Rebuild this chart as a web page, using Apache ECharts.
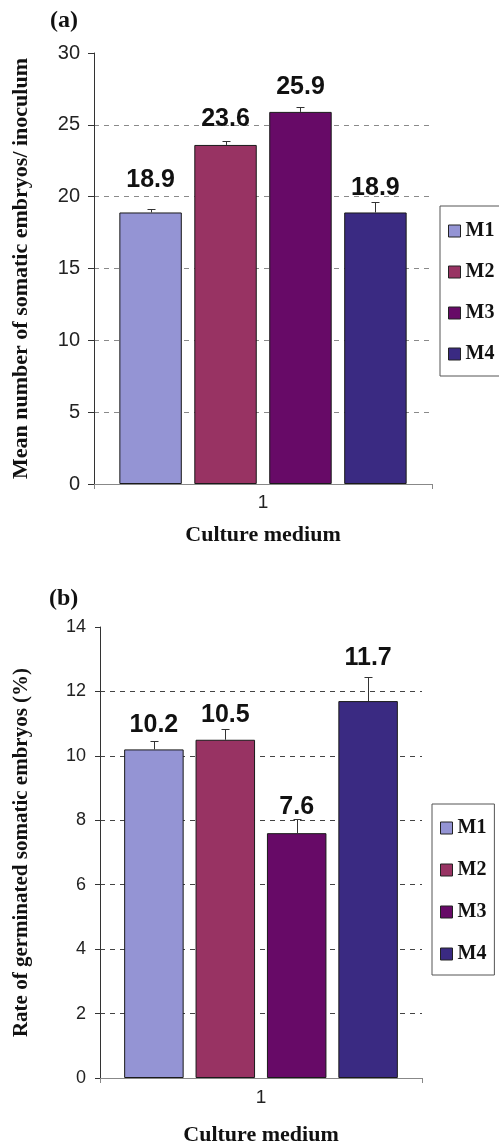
<!DOCTYPE html>
<html>
<head>
<meta charset="utf-8">
<script src="https://cdn.jsdelivr.net/npm/echarts@6/dist/echarts.min.js"></script>
<style>
  html, body { margin: 0; padding: 0; background: #fff; }
  #chart { width: 499px; height: 1147px; }
</style>
</head>
<body>
<div id="chart"></div>
<script>
// Culture media compared in both panels
const media = ['M1', 'M2', 'M3', 'M4'];
const categories = ['1'];

// (a) mean number of somatic embryos per inoculum, with standard errors
const embryosMean = [18.9, 23.6, 25.9, 18.9];
const embryosErr = [0.25, 0.3, 0.33, 0.74];
const embryosTicks = [0, 5, 10, 15, 20, 25, 30];

// (b) rate of germinated somatic embryos (%), with standard errors
const germRate = [10.2, 10.5, 7.6, 11.7];
const germErr = [0.27, 0.34, 0.45, 0.75];
const germTicks = [0, 2, 4, 6, 8, 10, 12, 14];

// ---- styling ----
const colors = ['#9494d4', '#983363', '#670a67', '#3a2a82'];
const serif = 'Liberation Serif';
const sans = 'Liberation Sans';
const CAT_GAP = 0.15;
const BAR_GAP = 0.2;
// pixel lift of each value label above its bar
const liftA = [20, 13, 12.5, 12];
const liftB = [12, 12, 13.5, 30.5];

function errorBarRenderer(count) {
  return function (params, api) {
    const i = api.value(3);
    const base = api.coord([api.value(0), api.value(1)]);
    const top = api.coord([api.value(0), api.value(1) + api.value(2)]);
    const band = api.size([1, 0])[0];
    const group = band * (1 - CAT_GAP);
    const w = group / (count + (count - 1) * BAR_GAP);
    let x = base[0] - group / 2 + i * w * (1 + BAR_GAP) + w / 2;
    x = Math.round(x) + 0.5;
    const yTop = Math.round(top[1]) + 0.5;
    const st = { stroke: '#333', lineWidth: 1 };
    return {
      type: 'group',
      children: [
        { type: 'line', shape: { x1: x, y1: base[1], x2: x, y2: yTop }, style: st },
        { type: 'line', shape: { x1: x - 4, y1: yTop, x2: x + 4, y2: yTop }, style: st }
      ]
    };
  };
}

function barSeries(values, axisIdx, lifts) {
  return media.map((name, i) => ({
    type: 'bar',
    name: name,
    xAxisIndex: axisIdx,
    yAxisIndex: axisIdx,
    data: [values[i]],
    barGap: (BAR_GAP * 100) + '%',
    barCategoryGap: (CAT_GAP * 100) + '%',
    itemStyle: { color: colors[i], borderColor: '#1a1a1a', borderWidth: 1 },
    label: {
      show: true,
      position: 'top',
      distance: lifts[i],
      formatter: p => p.value.toFixed(1),
      fontFamily: sans,
      fontWeight: 'bold',
      fontSize: 25,
      color: '#111'
    },
    emphasis: { disabled: true },
    z: 2
  }));
}

function errSeries(values, errs, axisIdx) {
  return {
    type: 'custom',
    xAxisIndex: axisIdx,
    yAxisIndex: axisIdx,
    renderItem: errorBarRenderer(values.length),
    encode: { x: 0, y: 1 },
    data: values.map((v, i) => [0, v, errs[i], i]),
    silent: true,
    z: 3
  };
}

function xAxis(gridIdx, labelMargin, nameGap) {
  return {
    type: 'category',
    gridIndex: gridIdx,
    data: categories,
    axisLine: { lineStyle: { color: '#888', width: 1 } },
    axisTick: { show: true, length: 5, lineStyle: { color: '#888' } },
    axisLabel: { fontFamily: sans, fontSize: 19, color: '#222', margin: labelMargin },
    name: 'Culture medium',
    nameLocation: 'middle',
    nameGap: nameGap,
    nameTextStyle: { fontFamily: serif, fontWeight: 'bold', fontSize: 22, color: '#111' }
  };
}

function yAxis(gridIdx, ticks, name, nameGap, fontSize, nameSize, gridColor, tickLen) {
  return {
    type: 'value',
    gridIndex: gridIdx,
    min: ticks[0],
    max: ticks[ticks.length - 1],
    interval: ticks[1] - ticks[0],
    axisLine: { show: true, lineStyle: { color: '#333', width: 1 } },
    axisTick: { show: true, length: tickLen, lineStyle: { color: '#333' } },
    axisLabel: { fontFamily: sans, fontSize: fontSize, color: '#222', margin: 14 },
    splitLine: {
      show: true,
      showMinLine: false,
      showMaxLine: false,
      lineStyle: { color: gridColor, type: [5, 5], width: 1 }
    },
    name: name,
    nameLocation: 'middle',
    nameRotate: 90,
    nameGap: nameGap,
    nameTextStyle: { fontFamily: serif, fontWeight: 'bold', fontSize: nameSize, color: '#111' }
  };
}

function legend(left, top, gap, padding) {
  return {
    data: media,
    orient: 'vertical',
    left: left,
    top: top,
    icon: 'rect',
    itemWidth: 12,
    itemHeight: 12,
    itemGap: gap,
    padding: padding,
    backgroundColor: '#fff',
    borderColor: '#555',
    borderWidth: 1,
    borderRadius: 0,
    selectedMode: false,
    itemStyle: { borderColor: '#222', borderWidth: 1 },
    textStyle: { fontFamily: serif, fontWeight: 'bold', fontSize: 20, color: '#111' }
  };
}

const chart = echarts.init(document.getElementById('chart'), null, { renderer: 'canvas' });

chart.setOption({
  animation: false,
  backgroundColor: '#fff',
  grid: [
    { left: 94, top: 53, width: 338, height: 431 },
    { left: 100, top: 627, width: 322, height: 453 }
  ],
  xAxis: [xAxis(0, 9, 40), xAxis(1, 10, 46)],
  yAxis: [
    yAxis(0, embryosTicks, 'Mean number of somatic embryos/ inoculum', 62, 20, 22, '#8a8a8a', 6),
    yAxis(1, germTicks, 'Rate of germinated somatic embryos (%)', 68, 18, 21, '#444', 5)
  ],
  legend: [
    legend(440, 206, 21, [15, 8, 12, 8]),
    legend(432, 804, 22, [14, 8, 11, 8])
  ],
  graphic: [
    { type: 'text', left: 50, top: 9, style: { text: '(a)', font: 'bold 24px "Liberation Serif"', fill: '#111' } },
    { type: 'text', left: 49, top: 587, style: { text: '(b)', font: 'bold 24px "Liberation Serif"', fill: '#111' } }
  ],
  series: [
    ...barSeries(embryosMean, 0, liftA),
    errSeries(embryosMean, embryosErr, 0),
    ...barSeries(germRate, 1, liftB),
    errSeries(germRate, germErr, 1)
  ]
});
</script>
</body>
</html>
